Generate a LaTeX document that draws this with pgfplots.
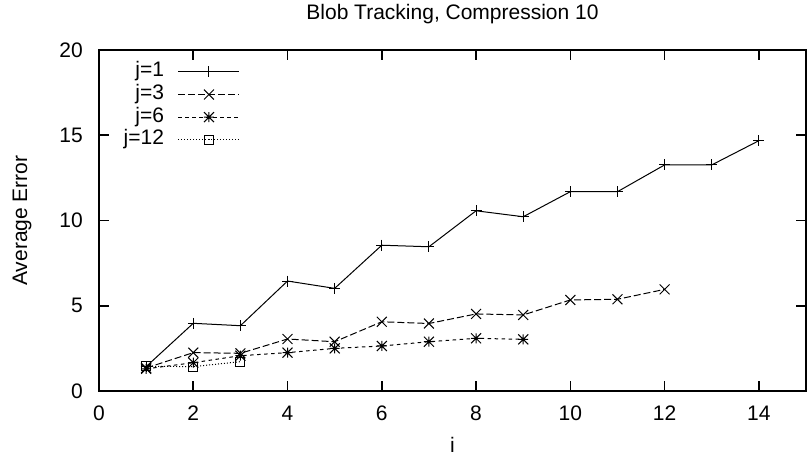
\documentclass[border=0pt]{standalone}
\usepackage{fontspec}
\setmainfont{Liberation Sans}
\usepackage{pgfplots}
\pgfplotsset{compat=1.18}
% gnuplot-style asterisk: a plus and a cross laid over each other
\pgfdeclareplotmark{gpstar}{%
  \pgfpathmoveto{\pgfqpoint{-\pgfplotmarksize}{0pt}}%
  \pgfpathlineto{\pgfqpoint{\pgfplotmarksize}{0pt}}%
  \pgfpathmoveto{\pgfqpoint{0pt}{-\pgfplotmarksize}}%
  \pgfpathlineto{\pgfqpoint{0pt}{\pgfplotmarksize}}%
  \pgfpathmoveto{\pgfqpoint{-\pgfplotmarksize}{-\pgfplotmarksize}}%
  \pgfpathlineto{\pgfqpoint{\pgfplotmarksize}{\pgfplotmarksize}}%
  \pgfpathmoveto{\pgfqpoint{-\pgfplotmarksize}{\pgfplotmarksize}}%
  \pgfpathlineto{\pgfqpoint{\pgfplotmarksize}{-\pgfplotmarksize}}%
  \pgfusepathqstroke}
\begin{document}
\fontsize{21}{24}\selectfont
\begin{tikzpicture}
\useasboundingbox (0,0) rectangle (811pt,461pt);
\begin{axis}[
  at={(99pt,70pt)}, anchor=south west,
  scale only axis, width=707pt, height=341pt,
  xmin=0, xmax=15, ymin=0, ymax=20,
  xtick={0,2,...,14}, ytick={0,5,...,20},
  tick align=inside, xtick pos=both, ytick pos=both,
  major tick length=10pt,
  axis line style={line width=1.6pt},
  tick style={line width=1.6pt, black},
  /pgf/number format/assume math mode=true,
  font=\fontsize{21}{24}\selectfont,
  xticklabel style={inner sep=0pt, anchor=base, yshift=-29pt},
  yticklabel style={inner sep=0pt, anchor=east, xshift=-16pt},
  title={Blob Tracking, Compression 10},
  title style={at={(axis description cs:0.5,1)}, anchor=base, yshift=25pt, inner sep=0pt},
  xlabel={i},
  xlabel style={at={(axis description cs:0.5,0)}, anchor=base, yshift=-61pt, inner sep=0pt},
  ylabel={Average Error},
  ylabel style={at={(axis description cs:-0.1089,0.5)}, anchor=center, inner sep=0pt},
  legend plot pos=right,
  legend cell align=right,
  legend style={draw=none, fill=none, at={(axis description cs:0.1994,0.965)},
    anchor=north east, inner sep=0pt, outer sep=0pt, row sep=2.6pt, column sep=14pt,
    nodes={inner sep=0pt, text height=15pt, text depth=5pt}},
  legend image code/.code={\draw[mark repeat=2, mark phase=2, #1]
    plot coordinates {(0pt,0pt) (30.5pt,0pt) (61pt,0pt)};},
  every axis plot/.append style={black, line width=1pt},
]
\addplot[solid, mark=+, mark size=5.5pt, mark options={solid}] coordinates {
  (1,1.43) (2,3.97) (3,3.83) (4,6.45) (5,6.02) (6,8.55) (7,8.46)
  (8,10.57) (9,10.22) (10,11.69) (11,11.69) (12,13.26) (13,13.26) (14,14.68)};
\addlegendentry{j=1}
\addplot[dash pattern=on 7pt off 3pt, mark=x, mark size=7pt, mark options={solid}] coordinates {
  (1,1.35) (2,2.25) (3,2.21) (4,3.05) (5,2.89) (6,4.06) (7,3.96)
  (8,4.52) (9,4.46) (10,5.34) (11,5.38) (12,5.96)};
\addlegendentry{j=3}
\addplot[dash pattern=on 3.5pt off 3.5pt, mark=gpstar, mark size=5pt, mark options={solid}] coordinates {
  (1,1.30) (2,1.66) (3,2.07) (4,2.25) (5,2.50) (6,2.64) (7,2.89)
  (8,3.09) (9,3.03)};
\addlegendentry{j=6}
\addplot[dash pattern=on 1pt off 2pt, mark=square, mark size=4.5pt, mark options={solid}] coordinates {
  (1,1.45) (2,1.43) (3,1.72)};
\addlegendentry{j=12}
\end{axis}
\end{tikzpicture}
\end{document}
